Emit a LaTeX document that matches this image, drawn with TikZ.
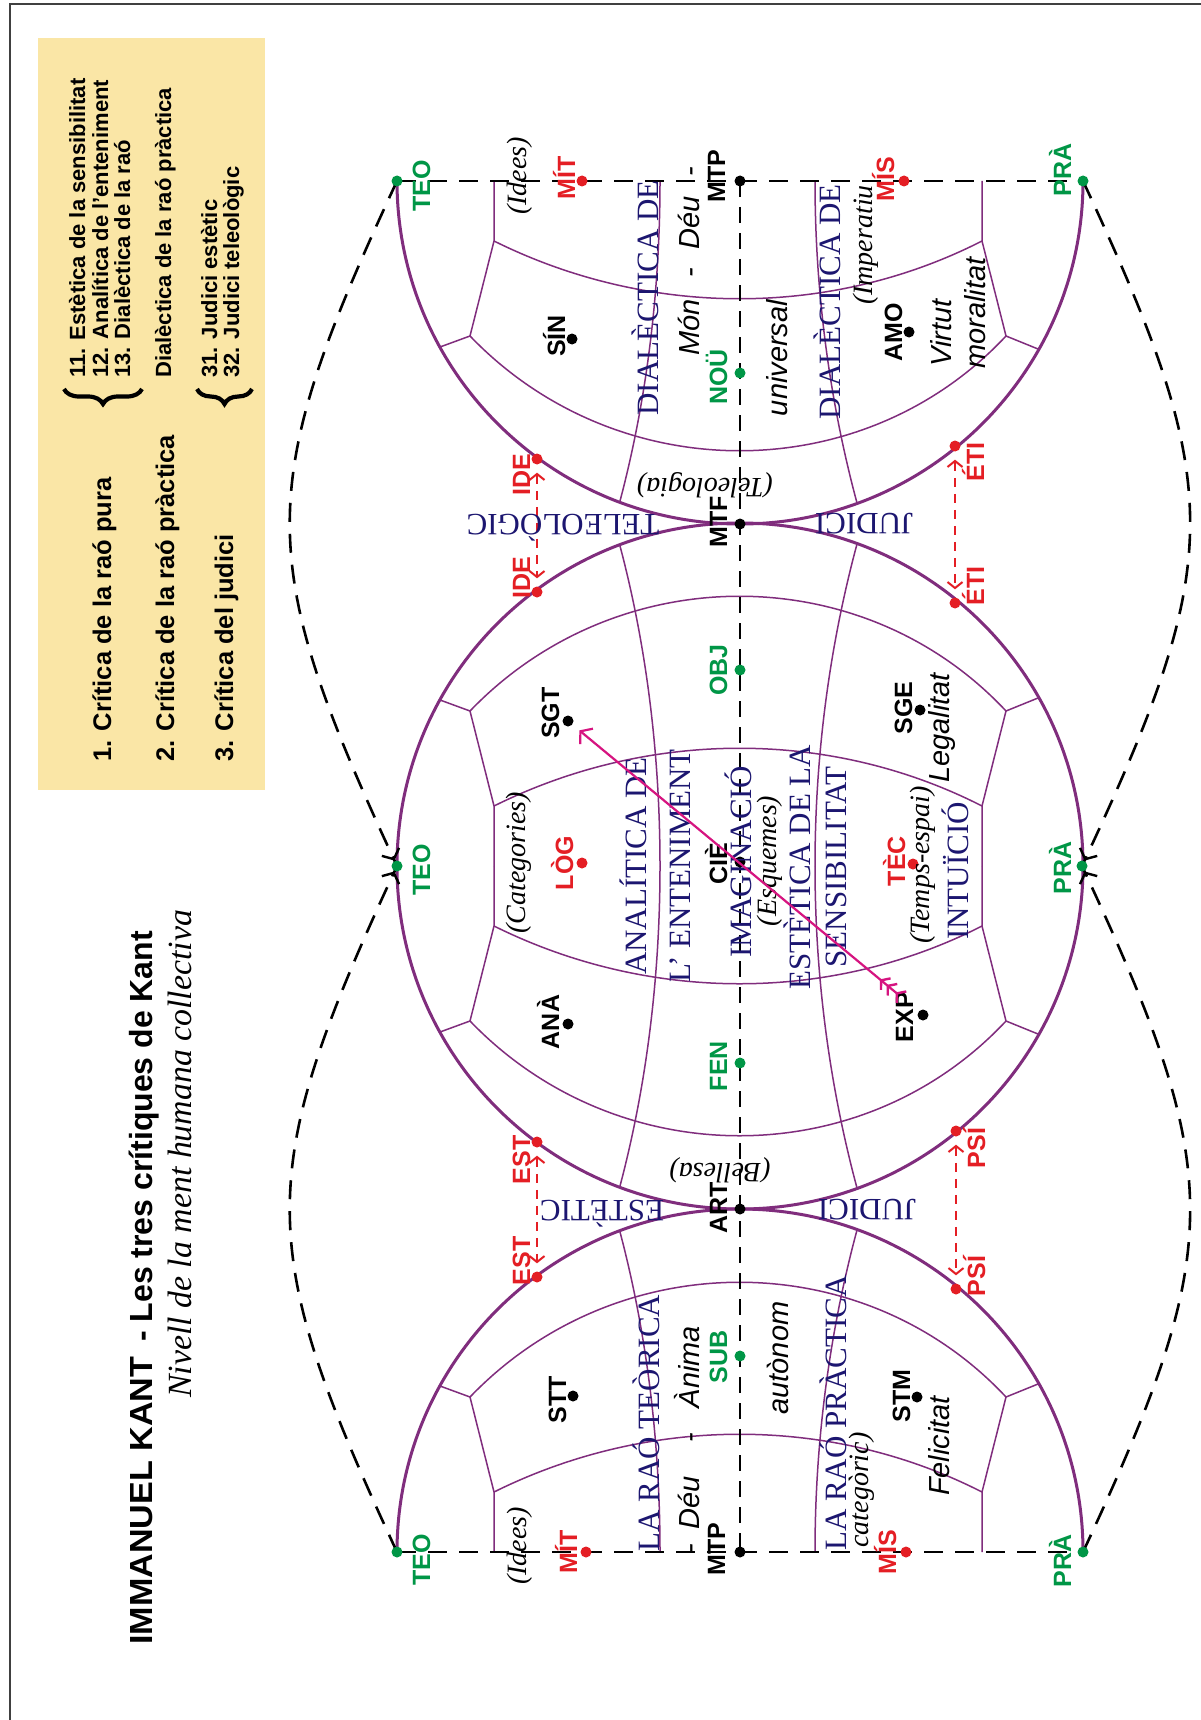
\documentclass[tikz,border=0pt]{standalone}
\usepackage{fontspec}
\setmainfont{Liberation Serif}
\setsansfont{Liberation Sans}
\usepackage{graphicx}
\usetikzlibrary{arrows.meta,decorations.pathreplacing,decorations.markings}
\definecolor{purp}{RGB}{128,45,125}
\definecolor{nvy}{RGB}{28,22,112}
\definecolor{grn}{RGB}{0,150,70}
\definecolor{rd}{RGB}{228,30,36}
\definecolor{mag}{RGB}{214,20,128}
\definecolor{ylw}{RGB}{250,230,166}
\pgfdeclarelayer{bottom}
\pgfdeclarelayer{background}
\pgfsetlayers{bottom,background,main}
\newcommand\halfgrid{%
 \draw[gridl] (-300,166) -- (-270,155) -- (-246,60) -- (-246,0);
 \draw[gridl] (298,168) -- (266,155) -- (242,60) -- (242,0);
 \draw[gridl] (-270,155) .. controls (-123,308) and (123,308) .. (266,155);
 \draw[gridl] (-246,60) .. controls (-91,137) and (91,137) .. (242,60);
 \draw[gridl] (-80,0) .. controls (-80,109) and (-93,218) .. (-120,320);
 \draw[gridl] (75,0) .. controls (75,109) and (89,218) .. (117,322);
}
\begin{document}
\begin{tikzpicture}[x=1pt,y=-1pt,
  dot/.style={circle,inner sep=0pt,minimum size=11pt,fill=#1,draw=none},
  lbl/.style={rotate=90,inner sep=0pt,text height=18pt,text depth=0pt,font=\sffamily\bfseries\fontsize{25}{25}\selectfont,text=#1},
  nv/.style={inner sep=0pt,text height=20.5pt,text depth=0pt,font=\fontsize{31}{31}\selectfont,text=nvy},
  isr/.style={inner sep=0pt,font=\itshape\fontsize{28}{28}\selectfont},
  isf/.style={inner sep=0pt,font=\sffamily\itshape\fontsize{29}{29}\selectfont},
  hdr/.style={rotate=90,anchor=base west,inner sep=0pt,font=\sffamily\bfseries\fontsize{25.5}{25.5}\selectfont},
  hds/.style={rotate=90,anchor=base west,inner sep=0pt,font=\sffamily\bfseries\fontsize{22}{22}\selectfont},
  circ/.style={draw=purp,line width=3pt},
  gridl/.style={draw=purp,line width=1.5pt},
  dsh/.style={draw=black,line width=2.6pt,dash pattern=on 19pt off 12pt},
  dshax/.style={draw=black,line width=2pt,dash pattern=on 16pt off 10pt},
  bigtip/.style={postaction={decorate},decoration={markings,
     mark=at position -6pt with {\pgfsetdash{}{0pt}\arrow[line width=2.4pt]{Straight Barb[length=8pt,width=19pt]}}}},
  rdash/.style={draw=rd,line width=1.8pt,dash pattern=on 9pt off 7pt,
     {Straight Barb[length=6pt,width=15pt,line width=2pt]}-{Straight Barb[length=6pt,width=15pt,line width=2pt]},
     shorten <=8pt,shorten >=8pt},
  brc/.style={draw=black,line width=4.2pt,decorate,decoration={brace,amplitude=15pt}}
]
\useasboundingbox (0,0) rectangle (1201,1720);
\begin{pgfonlayer}{bottom}
\fill[white] (0,0) rectangle (1201,1720);
\fill[ylw] (38,38) rectangle (265,790);
\end{pgfonlayer}
\draw[line width=1.5pt,black!75] (10,1720) -- (10,4) -- (1201,4);

% ---------- header ----------
\node[hdr] (c1) at (111,762) {1. Crítica de la raó pura};
\node[hdr] (c2) at (174,762) {2. Crítica de la raó pràctica};
\node[hdr] (c3) at (233,762) {3. Crítica del judici};
\node[hds] (s11) at (85,378) {11. Estètica de la sensibilitat};
\node[hds] (s12) at (108,378) {12. Analítica de l'enteniment};
\node[hds] (s13) at (130,378) {13. Dialèctica de la raó};
\node[hds] (s2) at (171,378) {Dialèctica de la raó pràctica};
\node[hds] (s31) at (217,378) {31. Judici estètic};
\node[hds] (s32) at (239,378) {32. Judici teleològic};
\draw[brc] (142,389) -- (64,389);
\draw[brc] (252,389) -- (197,389);

% ---------- title ----------
\node[rotate=90,anchor=base west,inner sep=0pt] (kant) at (152,1645)
  {\resizebox{288pt}{22pt}{\sffamily\bfseries IMMANUEL KANT}};
\node[rotate=90,anchor=base west,inner sep=0pt,font=\sffamily\bfseries\fontsize{32}{32}\selectfont] (ttl) at (152,1342) {- Les tres crítiques de Kant};
\node[rotate=90,anchor=base west,inner sep=0pt] (subt) at (191,1398)
  {\resizebox{488pt}{!}{\itshape\fontsize{30}{30}\selectfont Nivell de la ment humana collectiva}};

% ---------- dots ----------
\node[dot=grn] (teoT) at (397,181) {};
\node[dot=grn] (teoM) at (397,866) {};
\node[dot=grn] (teoB) at (397,1552) {};
\node[dot=grn] (praT) at (1083,181) {};
\node[dot=grn] (praM) at (1082,866) {};
\node[dot=grn] (praB) at (1083,1552) {};
\node[dot=grn] (nou) at (740,373) {};
\node[dot=grn] (obj) at (740,670) {};
\node[dot=grn] (fen) at (740,1063) {};
\node[dot=grn] (sub) at (740,1356) {};
\node[dot=black] (mtpT) at (740,181) {};
\node[dot=black] (mtf) at (740,524) {};
\node[dot=black] (cie) at (740,862) {};
\node[dot=black] (art) at (740,1209) {};
\node[dot=black] (mtpB) at (740,1552) {};
\node[dot=black] (sin) at (572,339) {};
\node[dot=black] (amo) at (909,332) {};
\node[dot=black] (sgt) at (568,721) {};
\node[dot=black] (ana) at (568,1024) {};
\node[dot=black] (sge) at (920,710) {};
\node[dot=black] (exp) at (923,1015) {};
\node[dot=black] (stt) at (573,1396) {};
\node[dot=black] (stm) at (917,1397) {};
\node[dot=rd] (mitT) at (582,181) {};
\node[dot=rd] (mitB) at (586,1552) {};
\node[dot=rd] (misT) at (904,181) {};
\node[dot=rd] (misB) at (906,1552) {};
\node[dot=rd] (ideT) at (537,459) {};
\node[dot=rd] (ideM) at (537,592) {};
\node[dot=rd] (estT) at (537,1142) {};
\node[dot=rd] (estB) at (537,1277) {};
\node[dot=rd] (etiT) at (955,446) {};
\node[dot=rd] (etiM) at (955,603) {};
\node[dot=rd] (psiT) at (956,1131) {};
\node[dot=rd] (psiB) at (956,1289) {};
\node[dot=rd] (dlog) at (582,863) {};
\node[dot=rd] (tec) at (913,864) {};

% ---------- background drawing ----------
\begin{pgfonlayer}{background}
\draw[circ] (397,181) arc[start angle=180,end angle=0,radius=343];
\draw[circ] (740,866) circle[radius=343];
\draw[circ] (397,1552) arc[start angle=180,end angle=360,radius=343];
\begin{scope}[shift={(740,181)}] \halfgrid \end{scope}
\begin{scope}[shift={(740,866)}] \halfgrid \end{scope}
\begin{scope}[shift={(740,866)},yscale=-1] \halfgrid \end{scope}
\begin{scope}[shift={(740,1552)},yscale=-1] \halfgrid \end{scope}
\draw[dsh] (teoT.center) -- (praT.center);
\draw[dsh] (teoB.center) -- (praB.center);
\draw[dshax] (mtpT.center) -- (mtpB.center);
\draw[dsh,bigtip] (teoT.center) .. controls (254,488) and (254,559) .. (teoM.center);
\draw[dsh,bigtip] (teoB.center) .. controls (254,1245) and (254,1174) .. (teoM.center);
\draw[dsh,bigtip] (praT.center) .. controls (1226,488) and (1226,559) .. (praM.center);
\draw[dsh,bigtip] (praB.center) .. controls (1226,1245) and (1226,1174) .. (praM.center);
\end{pgfonlayer}

% ---------- red arrows ----------
\draw[rdash] (ideT) -- (ideM);
\draw[rdash] (estT) -- (estB);
\draw[rdash] (etiT) -- (etiM);
\draw[rdash] (psiT) -- (psiB);

% ---------- labels ----------
\node[lbl=grn] (lteoT) at (421,186) {TEO};
\node[lbl=grn] (lteoM) at (421,870) {TEO};
\node[lbl=grn] (lteoB) at (421,1560) {TEO};
\node[lbl=grn] (lpraT) at (1062,170) {PRÀ};
\node[lbl=grn] (lpraM) at (1062,868) {PRÀ};
\node[lbl=grn] (lpraB) at (1062,1561) {PRÀ};
\node[lbl=grn] (lnou) at (718,377) {NOÜ};
\node[lbl=grn] (lobj) at (718,670) {OBJ};
\node[lbl=grn] (lfen) at (718,1066) {FEN};
\node[lbl=grn] (lsub) at (718,1357) {SUB};
\node[lbl=black] (lmtpT) at (716,176) {MTP};
\node[lbl=black] (lmtf) at (718,522) {MTF};
\node[lbl=black] (lcie) at (718,864) {CIÈ};
\node[lbl=black] (lart) at (718,1208) {ART};
\node[lbl=black] (lmtpB) at (716,1549) {MTP};
\node[lbl=black] (lsin) at (556,336) {SÍN};
\node[lbl=black] (lamo) at (893,332) {AMO};
\node[lbl=black] (lsgt) at (550,713) {SGT};
\node[lbl=black] (lana) at (550,1022) {ANÀ};
\node[lbl=black] (lsge) at (903,708) {SGE};
\node[lbl=black] (lexp) at (904,1017) {EXP};
\node[lbl=black] (lstt) at (557,1400) {STT};
\node[lbl=black] (lstm) at (901,1396) {STM};
\node[lbl=rd] (lmitT) at (566,178) {MÍT};
\node[lbl=rd] (lmitB) at (568,1552) {MÍT};
\node[lbl=rd] (lmisT) at (885,179) {MÍS};
\node[lbl=rd] (lmisB) at (887,1552) {MÍS};
\node[lbl=rd] (lideT) at (521,475) {IDE};
\node[lbl=rd] (lideM) at (521,578) {IDE};
\node[lbl=rd] (lestT) at (521,1160) {EST};
\node[lbl=rd] (lestB) at (521,1261) {EST};
\node[lbl=rd] (letiT) at (975,462) {ÉTI};
\node[lbl=rd] (letiM) at (975,586) {ÉTI};
\node[lbl=rd] (lpsiT) at (976,1148) {PSÍ};
\node[lbl=rd] (lpsiB) at (976,1276) {PSÍ};
\node[lbl=rd] (llog) at (564,863) {LÒG};
\node[lbl=rd] (ltec) at (896,861) {TÈC};

% ---------- navy texts ----------
\node[nv,rotate=90] (tAna) at (636,866) {ANALÍTICA DE};
\node[nv,rotate=90] (tEnt) at (680,866) {L' ENTENIMENT};
\node[nv,rotate=90] (tImag) at (741,862) {IMAGINACIÓ};
\node[nv,rotate=90] (tEst) at (800,867) {ESTÈTICA DE LA};
\node[nv,rotate=90] (tSens) at (836,867) {SENSIBILITAT};
\node[nv,rotate=90] (tInt) at (958,871) {INTUÏCIÓ};
\node[nv,rotate=90] (tDiaL) at (648,298) {DIALÈCTICA DE};
\node[nv,rotate=90] (tDiaR) at (830,302) {DIALÈCTICA DE};
\node[nv,rotate=90] (tTeo) at (649,1423) {LA RAÓ TEÒRICA};
\node[nv,rotate=90] (tPra) at (836,1413) {LA RAÓ PRÀCTICA};
\node[nv,rotate=180] (tTel) at (563,525) {TELEOLÒGIC};
\node[nv,rotate=180] (tJud1) at (864,524) {JUDICI};
\node[nv,rotate=180] (tEstc) at (602,1211) {ESTÈTIC};
\node[nv,rotate=180] (tJud2) at (867,1210) {JUDICI};

% ---------- italic serif ----------
\node[isr,rotate=90] (tCat) at (519,863) {(Categories)};
\node[isr,rotate=90] (tEsq) at (770,861) {(Esquemes)};
\node[isr,rotate=90] (tTmp) at (923,865) {(Temps-espai)};
\node[isr,rotate=90] (tIdT) at (520,176) {(Idees)};
\node[isr,rotate=90] (tIdB) at (520,1546) {(Idees)};
\node[isr,rotate=90] (tImp) at (866,245) {(Imperatiu};
\node[isr,rotate=90] (tCtg) at (862,1490) {categòric)};
\node[isr,rotate=180] (tTlg) at (705,485) {(Teleologia)};
\node[isr,rotate=180] (tBel) at (720,1170) {(Bellesa)};

% ---------- italic sans ----------
\node[isf,rotate=90] (tLeg) at (942,728) {Legalitat};
\node[isf,rotate=90] (tUni) at (777,358) {universal};
\node[isf,rotate=90] (tAut) at (778,1358) {autònom};
\node[isf,rotate=90] (tVir) at (941,333) {Virtut};
\node[isf,rotate=90] (tMor) at (975,313) {moralitat};
\node[isf,rotate=90] (tFel) at (939,1446) {Felicitat};
\node[isf,rotate=90,anchor=base west] (tMon) at (699,356) {Món\hspace{22pt}-\hspace{18pt}Déu\hspace{20pt}-};
\node[isf,rotate=90,anchor=base west] (tDeu) at (699,1554) {-\hspace{15pt}Déu\hspace{33pt}-\hspace{25pt}Ànima};

% ---------- magenta arrow ----------
\draw[mag,line width=2.2pt,
  {Straight Barb[reversed,length=6pt,width=15pt,line width=2.4pt,sep=3pt] Straight Barb[reversed,length=6pt,width=15pt,line width=2.4pt,sep=3pt] Straight Barb[reversed,length=6pt,width=15pt,line width=2.4pt]}-{Straight Barb[length=8pt,width=20pt,line width=2.2pt]},
  shorten <=18pt,shorten >=9pt] (exp) -- (sgt);
\end{tikzpicture}
\end{document}
